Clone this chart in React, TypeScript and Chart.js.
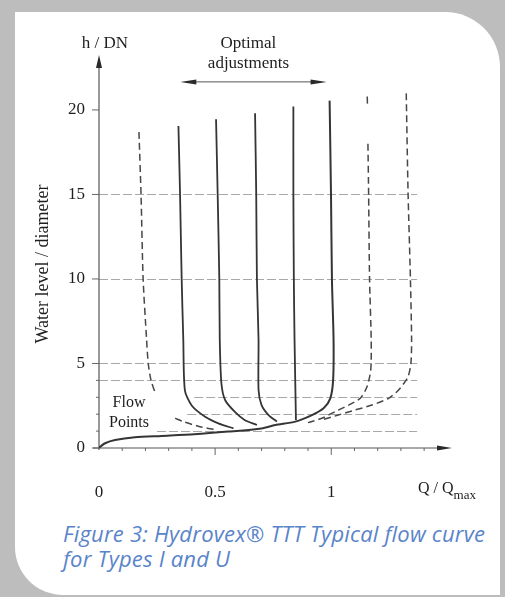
import React, { useEffect, useRef } from "react";
import { Chart, registerables } from "chart.js";

Chart.register(...registerables);

// ---- axis / tick data ----
const xTickValues = [0, 0.5, 1];
const yTickValues = [0, 5, 10, 15, 20];
const xMinorTicks = [0.1, 0.2, 0.3, 0.4, 0.6, 0.7, 0.8, 0.9, 1.1, 1.2, 1.3, 1.4];
const xMajorTicks = [0.5, 1];
const yMinorTicks = [1, 2, 3, 4];
const gridLevels = [1, 2, 3, 4, 5, 10, 15];
const gridStartQ = [0.25, 0.38, 0.41, 0, 0, 0, 0];
const gridEndQ = 1.37;

// ---- curves: [Q/Qmax, h/DN] ----
const leftDashedUpper: [number, number][] = [
  [0.172, 18.7], [0.181, 15], [0.19, 10], [0.205, 6.4], [0.212, 5], [0.224, 4], [0.241, 3.3],
];
const leftDashedLower: [number, number][] = [
  [0.328, 1.76], [0.363, 1.56], [0.435, 1.26], [0.507, 1.07],
];
const curveA: [number, number][] = [
  [0.342, 19.05], [0.349, 15], [0.356, 10], [0.363, 6.4], [0.37, 3.4], [0.4, 2.5], [0.457, 1.85], [0.514, 1.46], [0.579, 1.16],
];
const curveB: [number, number][] = [
  [0.504, 19.45], [0.511, 15], [0.518, 10], [0.52, 6.4], [0.527, 3.83], [0.543, 2.84], [0.584, 2.15], [0.627, 1.66], [0.68, 1.36],
];
const curveC: [number, number][] = [
  [0.672, 19.8], [0.677, 15], [0.68, 10], [0.687, 6.4], [0.687, 3.43], [0.7, 2.54], [0.73, 1.95], [0.766, 1.56],
];
const curveD: [number, number][] = [
  [0.837, 20.2], [0.837, 15], [0.839, 10], [0.842, 6.4], [0.848, 1.66],
];
const curveEBase: [number, number][] = [
  [0.993, 20.55], [0.999, 15], [1.003, 10], [1.01, 6.4], [1.008, 4.0], [0.996, 2.94], [0.967, 2.35], [0.917, 1.95],
  [0.845, 1.56], [0.759, 1.36], [0.7, 1.16], [0.557, 0.97], [0.41, 0.81], [0.27, 0.71], [0.155, 0.63], [0.069, 0.47],
  [0.026, 0.28], [0, 0.02],
];
const curveFTop: [number, number][] = [[1.155, 20.8], [1.156, 20.3]];
const curveF: [number, number][] = [
  [1.158, 18.0], [1.161, 15], [1.165, 10], [1.172, 6.4], [1.17, 4.6], [1.154, 3.63], [1.125, 2.94], [1.075, 2.54],
  [1.017, 2.15], [0.96, 1.76], [0.9, 1.5],
];
const curveG: [number, number][] = [
  [1.323, 20.98], [1.331, 15], [1.341, 10], [1.346, 6.4], [1.343, 5.0], [1.33, 4.2], [1.29, 3.43], [1.247, 2.94],
  [1.175, 2.54], [1.103, 2.25], [1.03, 1.95], [0.96, 1.66],
];

const adjustArrowQ = [0.35, 0.98];
const adjustArrowH = 21.66;

const SERIF = "'Liberation Serif', 'DejaVu Serif', serif";

const toPts = (arr: [number, number][]) => arr.map(([x, y]) => ({ x, y }));

const solid = (arr: [number, number][], w = 1.8) => ({
  data: toPts(arr),
  borderColor: "#353535",
  borderWidth: w,
  showLine: true,
  pointRadius: 0,
  tension: 0.25,
  fill: false,
});
const dashed = (arr: [number, number][]) => ({
  data: toPts(arr),
  borderColor: "#474747",
  borderWidth: 1.5,
  borderDash: [7, 4],
  showLine: true,
  pointRadius: 0,
  tension: 0.25,
  fill: false,
});

const decor = {
  id: "decor",
  beforeDatasetsDraw(chart: any) {
    const { ctx, scales } = chart;
    const x = scales.x;
    const y = scales.y;
    const x0 = x.getPixelForValue(0);
    const y0 = y.getPixelForValue(0);
    const top = chart.chartArea.top;
    const right = chart.chartArea.right;
    ctx.save();
    // grid lines
    ctx.strokeStyle = "#a8a8a8";
    ctx.lineWidth = 1;
    ctx.setLineDash([9, 3]);
    gridLevels.forEach((lv, i) => {
      const py = Math.round(y.getPixelForValue(lv)) + 0.5;
      ctx.beginPath();
      ctx.moveTo(x.getPixelForValue(gridStartQ[i]), py);
      ctx.lineTo(x.getPixelForValue(gridEndQ), py);
      ctx.stroke();
    });
    ctx.setLineDash([]);
    // axes
    ctx.strokeStyle = "#555";
    ctx.lineWidth = 1.2;
    ctx.beginPath();
    ctx.moveTo(x0, y0 + 2);
    ctx.lineTo(x0, top + 8);
    ctx.stroke();
    ctx.beginPath();
    ctx.moveTo(x0 - 6, y0);
    ctx.lineTo(right - 10, y0);
    ctx.stroke();
    // arrowheads
    ctx.fillStyle = "#2a2a2a";
    ctx.beginPath();
    ctx.moveTo(x0, top);
    ctx.lineTo(x0 - 3, top + 13);
    ctx.lineTo(x0 + 3, top + 13);
    ctx.closePath();
    ctx.fill();
    ctx.beginPath();
    ctx.moveTo(right, y0);
    ctx.lineTo(right - 15, y0 - 2.5);
    ctx.lineTo(right - 15, y0 + 2.5);
    ctx.closePath();
    ctx.fill();
    // ticks
    ctx.strokeStyle = "#666";
    ctx.lineWidth = 1;
    yTickValues.forEach((v) => {
      const py = y.getPixelForValue(v);
      ctx.beginPath();
      ctx.moveTo(x0 - 7, py);
      ctx.lineTo(x0, py);
      ctx.stroke();
    });
    yMinorTicks.forEach((v) => {
      const py = y.getPixelForValue(v);
      ctx.beginPath();
      ctx.moveTo(x0 - 3, py);
      ctx.lineTo(x0, py);
      ctx.stroke();
    });
    xMinorTicks.forEach((v) => {
      const px = x.getPixelForValue(v);
      ctx.beginPath();
      ctx.moveTo(px, y0);
      ctx.lineTo(px, y0 + 3);
      ctx.stroke();
    });
    xMajorTicks.forEach((v) => {
      const px = x.getPixelForValue(v);
      ctx.beginPath();
      ctx.moveTo(px, y0);
      ctx.lineTo(px, y0 + 7);
      ctx.stroke();
    });
    ctx.restore();
  },
  afterDatasetsDraw(chart: any) {
    const { ctx, scales } = chart;
    const x = scales.x;
    const y = scales.y;
    const x0 = x.getPixelForValue(0);
    ctx.save();
    ctx.fillStyle = "#1e1e1e";
    ctx.textAlign = "center";
    ctx.textBaseline = "middle";
    ctx.font = `17px ${SERIF}`;
    ctx.fillText("h / DN", x0 + 6, 44);
    const ax1 = x.getPixelForValue(adjustArrowQ[0]);
    const ax2 = x.getPixelForValue(adjustArrowQ[1]);
    const ay = y.getPixelForValue(adjustArrowH);
    const cx = (ax1 + ax2) / 2 - 5;
    ctx.fillText("Optimal", cx, 44);
    ctx.fillText("adjustments", cx, 64);
    // double arrow
    ctx.strokeStyle = "#555";
    ctx.lineWidth = 1;
    ctx.beginPath();
    ctx.moveTo(ax1 + 6, ay);
    ctx.lineTo(ax2 - 6, ay);
    ctx.stroke();
    ctx.fillStyle = "#2a2a2a";
    ctx.beginPath();
    ctx.moveTo(ax1, ay);
    ctx.lineTo(ax1 + 16, ay - 2.5);
    ctx.lineTo(ax1 + 16, ay + 2.5);
    ctx.closePath();
    ctx.fill();
    ctx.beginPath();
    ctx.moveTo(ax2, ay);
    ctx.lineTo(ax2 - 16, ay - 2.5);
    ctx.lineTo(ax2 - 16, ay + 2.5);
    ctx.closePath();
    ctx.fill();
    // flow points
    ctx.fillStyle = "#1e1e1e";
    ctx.font = `16px ${SERIF}`;
    ctx.fillText("Flow", 129, 403);
    ctx.fillText("Points", 129, 423);
    // x title
    ctx.textAlign = "left";
    ctx.textBaseline = "alphabetic";
    ctx.font = `16px ${SERIF}`;
    ctx.fillText("Q / Q", 418, 493);
    const qw = ctx.measureText("Q / Q").width;
    ctx.font = `13px ${SERIF}`;
    ctx.fillText("max", 418 + qw, 499);
    // y title
    ctx.save();
    ctx.translate(43, 264);
    ctx.rotate(-Math.PI / 2);
    ctx.textAlign = "center";
    ctx.textBaseline = "middle";
    ctx.font = `18px ${SERIF}`;
    ctx.fillText("Water level / diameter", 0, 0);
    ctx.restore();
    ctx.restore();
  },
};

export default function App() {
  const ref = useRef<HTMLCanvasElement | null>(null);
  useEffect(() => {
    if (!ref.current) return;
    const chart = new Chart(ref.current, {
      type: "scatter",
      data: {
        datasets: [
          dashed(leftDashedUpper),
          dashed(leftDashedLower),
          solid(curveA),
          solid(curveB),
          solid(curveC),
          solid(curveD),
          solid(curveEBase, 2),
          dashed(curveFTop),
          dashed(curveF),
          dashed(curveG),
        ] as any,
      },
      options: {
        responsive: false,
        animation: false,
        devicePixelRatio: 1,
        layout: { padding: { top: 55, right: 53, left: 0, bottom: 0 } },
        plugins: { legend: { display: false }, tooltip: { enabled: false }, title: { display: false } },
        scales: {
          x: {
            type: "linear",
            min: 0,
            max: 1.52,
            afterBuildTicks: (s: any) => {
              s.ticks = xTickValues.map((v) => ({ value: v }));
            },
            afterFit: (s: any) => {
              s.height = 52;
            },
            grid: { display: false, drawTicks: false },
            border: { display: false },
            ticks: {
              padding: 34,
              color: "#1e1e1e",
              font: { family: SERIF, size: 17 },
              callback: (v: any) => String(v),
            },
          },
          y: {
            type: "linear",
            min: 0,
            max: 23.25,
            afterBuildTicks: (s: any) => {
              s.ticks = yTickValues.map((v) => ({ value: v }));
            },
            afterFit: (s: any) => {
              s.width = 99;
            },
            grid: { display: false, drawTicks: false },
            border: { display: false },
            ticks: {
              padding: 14,
              color: "#1e1e1e",
              font: { family: SERIF, size: 17 },
              callback: (v: any) => String(v),
            },
          },
        },
      } as any,
      plugins: [decor],
    });
    return () => chart.destroy();
  }, []);

  return (
    <div
      style={{
        position: "fixed",
        left: 0,
        top: 0,
        width: 505,
        height: 597,
        background: "#bdbdbd",
        overflow: "hidden",
      }}
    >
      <div
        style={{
          position: "absolute",
          left: 15,
          top: 12,
          width: 485,
          height: 583,
          background: "#ffffff",
          borderRadius: "0 55px 0 48px",
        }}
      />
      <canvas
        ref={ref}
        width={505}
        height={500}
        style={{ position: "absolute", left: 0, top: 0, width: 505, height: 500 }}
      />
      <div
        style={{
          position: "absolute",
          left: 63,
          top: 521,
          fontFamily: "'Open Sans', 'Noto Sans', sans-serif",
          fontStyle: "italic",
          fontSize: 22,
          letterSpacing: "0.2px",
          lineHeight: "25px",
          color: "#5a84c9",
          whiteSpace: "nowrap",
        }}
      >
        Figure 3: Hydrovex® TTT Typical flow curve
        <br />
        for Types I and U
      </div>
    </div>
  );
}
